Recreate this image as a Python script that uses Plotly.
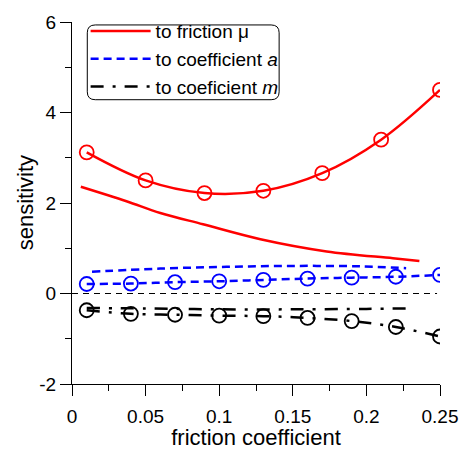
import plotly.graph_objects as go

# friction coefficient positions of the marked series
x_mu_pts = [0.01, 0.05, 0.09, 0.13, 0.17, 0.21, 0.25]
s_mu_pts = [3.12, 2.50, 2.22, 2.27, 2.66, 3.40, 4.50]

x_mu_line = [0.006, 0.037, 0.06, 0.089, 0.128, 0.173, 0.218, 0.236]
s_mu_line = [2.36, 2.04, 1.78, 1.53, 1.20, 0.93, 0.78, 0.72]

x_pts = [0.01, 0.04, 0.07, 0.10, 0.13, 0.16, 0.19, 0.22, 0.25]
s_a_pts = [0.21, 0.22, 0.25, 0.27, 0.30, 0.33, 0.35, 0.37, 0.41]
s_m_pts = [-0.37, -0.45, -0.47, -0.49, -0.50, -0.54, -0.61, -0.74, -0.95]

x_a_line = [0.0136, 0.06, 0.105, 0.15, 0.196, 0.227]
s_a_line = [0.48, 0.55, 0.59, 0.61, 0.60, 0.56]

x_m_line = [0.01, 0.05, 0.10, 0.15, 0.20, 0.228]
s_m_line = [-0.32, -0.33, -0.35, -0.35, -0.34, -0.33]

x_ticks = [0, 0.05, 0.1, 0.15, 0.2, 0.25]
x_tick_text = ["0", "0.05", "0.1", "0.15", "0.2", "0.25"]
y_ticks = [-2, 0, 2, 4, 6]
y_tick_text = ["-2", "0", "2", "4", "6"]

RED = "#ff0000"
BLUE = "#0000ff"
BLACK = "#000000"
FONT = "Liberation Sans, Arial, sans-serif"
BLACK_DASH = "13px,9px,3px,9px"

fig = go.Figure()

# legend-bearing line traces
fig.add_trace(go.Scatter(x=x_mu_line, y=s_mu_line, mode="lines", name="to friction \u03bc",
                         line=dict(color=RED, width=2.5, shape="spline")))
fig.add_trace(go.Scatter(x=x_a_line, y=s_a_line, mode="lines", name="to coefficient <i>a</i>",
                         line=dict(color=BLUE, width=2.5, dash="8px,5px", shape="spline")))
fig.add_trace(go.Scatter(x=x_m_line, y=s_m_line, mode="lines", name="to coeficient <i>m</i>",
                         line=dict(color=BLACK, width=2.5, dash=BLACK_DASH, shape="spline")))

# marked series
fig.add_trace(go.Scatter(x=x_mu_pts, y=s_mu_pts, mode="lines+markers", showlegend=False,
                         line=dict(color=RED, width=2.5, shape="spline"),
                         marker=dict(symbol="circle-open", size=14, color=RED, line=dict(width=1.8))))
fig.add_trace(go.Scatter(x=x_pts, y=s_a_pts, mode="lines+markers", showlegend=False,
                         line=dict(color=BLUE, width=2.5, dash="8px,5px", shape="spline"),
                         marker=dict(symbol="circle-open", size=14, color=BLUE, line=dict(width=1.8))))
fig.add_trace(go.Scatter(x=x_pts, y=s_m_pts, mode="lines+markers", showlegend=False,
                         line=dict(color=BLACK, width=2.5, dash=BLACK_DASH, shape="spline"),
                         marker=dict(symbol="circle-open", size=14, color=BLACK, line=dict(width=1.8))))

# zero reference line
fig.add_shape(type="line", xref="x", yref="y", x0=0, x1=0.248, y0=0, y1=0,
              line=dict(color=BLACK, width=1, dash="6px,5px"), layer="below")

# rounded legend frame
x0, x1, y0, y1, r = 87, 279, 19, 95, 8
fig.add_shape(type="path", xref="paper", yref="paper",
              path=(lambda px, py: (
                  f"M {px(x0+r)} {py(y0)} L {px(x1-r)} {py(y0)} Q {px(x1)} {py(y0)} {px(x1)} {py(y0+r)} "
                  f"L {px(x1)} {py(y1-r)} Q {px(x1)} {py(y1)} {px(x1-r)} {py(y1)} "
                  f"L {px(x0+r)} {py(y1)} Q {px(x0)} {py(y1)} {px(x0)} {py(y1-r)} "
                  f"L {px(x0)} {py(y0+r)} Q {px(x0)} {py(y0)} {px(x0+r)} {py(y0)} Z"))(
                  lambda v: (v - 71.7) / 368.3, lambda v: 1 - (v - 16) / 368),
              line=dict(color=BLACK, width=1), fillcolor="rgba(0,0,0,0)")

# y-axis title
fig.add_annotation(text="sensitivity", xref="paper", yref="paper", x=(25 - 71.7) / 368.3, y=0.5,
                   xanchor="center", yanchor="middle", textangle=-90, showarrow=False,
                   font=dict(family=FONT, size=22, color=BLACK))

axis_common = dict(showline=True, linecolor=BLACK, linewidth=1, ticks="outside", ticklen=11,
                   tickcolor=BLACK, tickwidth=1, showgrid=False, zeroline=False, mirror=False,
                   automargin=False,
                   tickfont=dict(family=FONT, size=19, color=BLACK))

fig.update_layout(
    width=459, height=450,
    margin=dict(l=71.7, r=19, t=16, b=66),
    paper_bgcolor="white", plot_bgcolor="white",
    font=dict(family=FONT, size=19, color=BLACK),
    xaxis=dict(range=[0, 0.25], tickmode="array", tickvals=x_ticks, ticktext=x_tick_text,
               ticklabelstandoff=4,
               minor=dict(dtick=0.025, tick0=0, ticklen=6, ticks="outside", tickcolor=BLACK, showgrid=False),
               title=dict(text="friction coefficient", font=dict(family=FONT, size=22), standoff=0),
               **axis_common),
    yaxis=dict(range=[-2, 6], tickmode="array", tickvals=y_ticks, ticktext=y_tick_text,
               minor=dict(dtick=1, tick0=0, ticklen=6, ticks="outside", tickcolor=BLACK, showgrid=False),
               **axis_common),
    legend=dict(x=0.037, y=1.027, xanchor="left", yanchor="top", bgcolor="rgba(0,0,0,0)",
                borderwidth=0, font=dict(family=FONT, size=19), itemwidth=60,
                tracegroupgap=0),
    showlegend=True,
)

fig.write_html("out.html")
